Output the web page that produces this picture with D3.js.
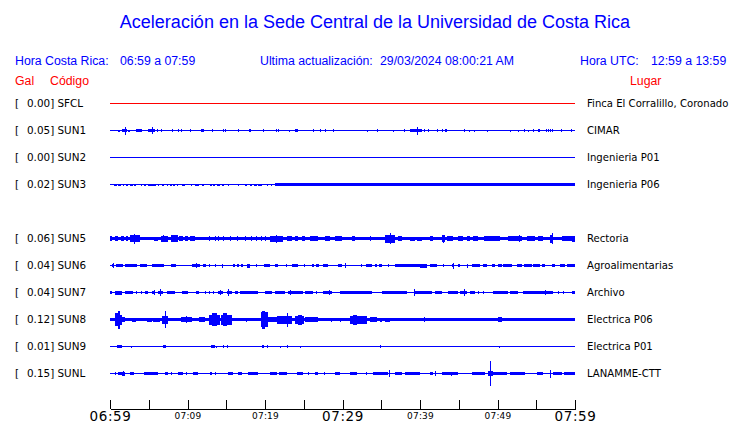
<!DOCTYPE html>
<html><head><meta charset="utf-8">
<script src="https://cdn.jsdelivr.net/npm/d3@7"></script>
<style>
html,body{margin:0;padding:0;background:#fff;}
svg{display:block;}
</style>
</head><body>
<svg id="c" width="740" height="423"></svg>
<script>
// ---------------- DATA ----------------
const title = "Aceleración en la Sede Central de la Universidad de Costa Rica";
const localRange = "06:59 a 07:59";
const utcRange = "12:59 a 13:59";
const updated = "29/03/2024 08:00:21 AM";

const slotCodes = ["SFCL","SUN1","SUN2","SUN3","SUN4","SUN5","SUN6","SUN7","SUN8","SUN9","SUNL"];
const codes = ["SFCL","SUN1","SUN2","SUN3","SUN5","SUN6","SUN7","SUN8","SUN9","SUNL"];
const galValues = [0.00,0.05,0.00,0.02,0.06,0.04,0.04,0.12,0.01,0.15];
const places = ["Finca El Corralillo, Coronado","CIMAR","Ingenieria P01","Ingenieria P06","Rectoria","Agroalimentarias","Archivo","Electrica P06","Electrica P01","LANAMME-CTT"];
const traceColors = ["#ff0000","#0000ff","#0000ff","#0000ff","#0000ff","#0000ff","#0000ff","#0000ff","#0000ff","#0000ff"];

const tickMinutes = [0,5,10,15,20,25,30,35,40,45,50,55,60];
const tickLabels = {0:"06:59",10:"07:09",20:"07:19",30:"07:29",40:"07:39",50:"07:49",60:"07:59"};
const majorTicks = [0,30,60];

// envelope blocks: [start minute, end minute, half amplitude]; spikes: [minute, half amplitude]
const sfclBlocks = [], sfclSpikes = [];
const sun1Blocks = [[0.99,1.29,1],[1.59,2.19,1.7],[2.37,2.54,1],[3.35,4.09,1.3],[4.95,5.81,1.5],[11.74,12.13,1.5],[23.87,24.22,1.5],[38.71,40.22,1.3]];
const sun1Spikes = [[1.98,4],[5.51,3.5],[39.7,4],[6.15,1.3],[6.67,1.3],[8.04,1.3],[8.82,1.3],[9.25,1.3],[10.45,1.3],[13.2,1.3],[14.62,1.3],[14.84,1.3],[16.56,1.3],[17.94,1.3],[18.15,1.3],[19.78,1.3],[21.42,1.3],[21.72,1.3],[23.14,1],[26.24,1.3],[27.1,1.3],[27.87,1.3],[28.82,1.3],[33.2,1],[34.5,1.3],[36.56,1],[38.06,1.3],[40.56,1.3],[41.08,1.3],[42.24,1.3],[42.92,1.3],[43.23,1.3],[43.44,1.3],[45.72,1.3],[46.45,1],[47.01,1],[48.69,1],[51.74,1],[52.7,1],[53.46,1.3],[53.98,1],[54.62,1.3],[55.27,1.3],[55.48,1.3],[56.26,1.3],[56.56,1.3],[56.9,1.3],[57.12,1.3],[58.28,1.3],[59.57,1.3]];
const sun2Blocks = [], sun2Spikes = [];
const sun3Blocks = [[0.52,0.86,1],[0.99,1.42,1],[1.63,1.85,1],[2.02,2.28,1],[2.58,3.01,1],[3.14,3.35,1],[4.0,4.17,1],[4.43,4.6,1],[4.86,5.89,1],[6.24,6.37,1],[6.67,6.97,1],[7.31,7.53,1],[7.74,7.96,1],[8.17,8.39,1],[8.6,8.73,1],[9.25,9.68,1],[10.45,10.62,1],[10.97,11.48,1],[11.83,12.17,1],[12.9,13.12,1],[13.25,13.55,1],[13.85,14.19,1],[14.41,14.75,1],[15.18,15.35,1],[16.47,16.56,1],[17.42,17.63,1],[18.02,18.28,1],[18.58,18.92,1],[19.14,19.57,1],[20.22,20.34,1],[20.73,20.86,1],[21.3,60,1.4]];
const sun3Spikes = [];
const sun5Blocks = [[0,60,1.6],[0,0.3,2.3],[0.65,1.08,2.3],[1.42,1.85,2.3],[2.02,2.28,2.3],[2.58,3.87,3.3],[5.72,6.24,2],[6.58,7.53,3],[7.87,8.82,3.7],[8.9,9.46,2.3],[9.68,10.1,2.3],[10.32,10.97,2.3],[20.65,22.37,3],[22.8,23.44,2.3],[23.87,24.3,2.3],[24.73,25.16,2.3],[25.8,26.88,2.3],[27.74,28.39,2.3],[29.03,29.89,2.3],[31.18,31.61,2.3],[35.48,36.77,4],[37.2,37.63,2.3],[38.7,39.3,2],[39.6,40.2,2],[41.3,41.7,2.3],[42.8,43.23,3.3],[43.44,44.3,2.7],[44.95,45.6,2.3],[46.0,46.45,2.3],[46.9,47.5,2.3],[48.2,50.3,2.3],[51.4,53.1,2.3],[53.76,54.84,2.7],[55.27,55.9,2.3],[56.77,57.2,4],[58.28,60,2.3],[59.6,60,3]];
const sun5Spikes = [[3.14,5],[6.88,3.7],[12.9,2.3],[13.55,2.3],[13.98,2.3],[14.62,2.3],[15.61,2.3],[16.47,2.3],[17.42,2.3],[18.28,2.3],[18.92,2.3],[19.57,2.3],[20.0,2.3],[21.5,4],[33.55,2.3],[36.2,5.3],[43.0,4],[52.8,3.3],[57.07,5.7]];
const sun6Blocks = [[0.22,0.56,1.3],[0.73,1.72,1.3],[1.94,3.44,1.3],[3.87,4.73,1.3],[5.46,7.01,1.3],[7.87,8.47,1.3],[10.62,11.61,1.3],[12.04,12.34,1.3],[15.91,16.13,1.3],[16.43,16.69,1.3],[16.9,17.2,1.3],[17.63,18.06,2],[19.91,20.65,1.3],[21.29,21.63,1.3],[23.53,24.22,1.3],[26.1,26.37,1.3],[26.54,26.97,1.3],[27.44,28.17,1.3],[29.46,29.98,1.3],[32.99,33.76,1.3],[34.19,34.41,1.3],[34.71,35.14,1.3],[36.77,40.0,1.7],[40.0,40.86,2],[41.29,42.15,1.3],[44.09,44.43,1.5],[44.95,45.16,1.3],[46.67,47.74,1.3],[48.17,48.6,1.3],[49.25,49.68,1.3],[50.02,50.54,1.3],[50.75,51.91,1.3],[52.47,53.12,1.3],[53.46,54.49,1.3],[54.62,55.48,1.3],[55.7,56.13,1.3],[56.99,57.42,1.3],[58.06,58.71,1.3],[58.92,60,1.3]];
const sun6Spikes = [[0.43,2.3],[11.18,2.3],[12.9,1.3],[13.55,1.3],[14.49,2],[18.92,1.3],[22.8,1.3],[25.08,1.3],[30.4,2.3],[32.39,1.3],[35.91,1.3],[43.0,1.3],[44.3,3],[46.15,2]];
const sun7Blocks = [[0,0.22,1.5],[0.65,1.5,2],[1.94,3.01,1.5],[4.52,4.95,1.5],[5.38,5.81,1.5],[6.24,6.88,1.7],[7.31,8.39,1.5],[9.33,10.11,1.5],[11.05,11.48,1.5],[13.98,14.62,1.5],[15.05,15.7,1.7],[16.13,16.56,1.5],[16.77,19.14,1.8],[20.0,20.86,1.5],[21.29,22.58,1.5],[23.01,24.95,1.7],[25.16,26.24,1.5],[27.53,28.6,1.5],[29.68,33.76,1.5],[35.05,38.28,1.5],[39.35,41.5,1.5],[41.94,42.8,1.5],[43.66,44.95,1.5],[45.16,46.02,1.7],[46.45,47.1,1.5],[49.46,51.4,1.5],[51.61,52.69,1.5],[53.33,57.2,1.5],[59.57,60,1.5]];
const sun7Spikes = [[3.44,1.5],[4.09,1.5],[5.68,2.3],[6.58,3.3],[12.26,1.5],[12.9,1.5],[13.33,1.5],[14.32,2.3],[15.27,3.7],[23.31,2.7],[26.67,1.5],[28.3,2.3],[39.35,3.3],[45.68,3.7],[47.53,1.5],[48.17,1.5],[56.13,2.3],[57.85,1.5],[58.49,1.5]];
const sun8Blocks = [[0,36.77,1.1],[0.22,0.65,1.7],[0.65,0.99,6.7],[0.99,1.29,9],[1.29,1.59,5],[1.59,1.94,2.7],[2.15,2.58,1.7],[2.8,3.31,2],[3.66,4.09,1.7],[4.73,5.38,2],[5.59,6.45,2],[6.67,7.53,4],[7.74,7.96,1.3],[9.16,10.62,2.7],[11.48,12.26,2.7],[12.77,14.19,5],[13.1,13.76,6.7],[14.32,15.7,5],[14.62,15.05,6.7],[15.91,17.42,1.7],[19.48,20.43,7.7],[19.6,20.0,9],[20.43,21.51,2.7],[21.51,23.44,4],[22.8,23.01,7],[23.87,25.08,4],[24.3,24.73,5],[25.16,26.88,2.3],[30.97,33.12,4],[31.4,31.83,5],[33.55,34.41,2.7],[34.84,35.05,2],[35.48,36.13,2],[36.77,60,1.8],[50.1,50.54,2.7]];
const sun8Spikes = [[7.1,8.3],[9.89,3.5],[17.63,2],[28.6,2],[29.68,2],[40.56,2.3]];
const sun9Blocks = [[0.86,1.59,1.3],[6.88,7.18,1.5],[13.03,13.55,1.5],[19.66,19.91,1.5],[20.22,20.43,1.3]];
const sun9Spikes = [[2.71,1],[13.76,1],[14.62,1.3],[15.18,1.3],[21.94,1],[22.92,1.3],[24.52,1],[34.84,1.3],[50.24,1]];
const sunlBlocks = [[0.99,1.5,1.3],[1.59,1.94,2],[2.58,3.14,1.2],[4.43,6.15,1.5],[7.1,7.44,1.2],[8.73,9.46,1.3],[10.75,11.31,1.3],[12.9,13.12,1.2],[15.27,15.91,1.2],[16.56,17.08,1.2],[17.76,19.14,1.3],[20.65,21.5,1.3],[21.8,22.8,1.3],[24.09,24.95,1.2],[26.45,26.88,1.2],[29.03,29.68,1.2],[30.97,31.83,1.2],[33.98,35.91,1.3],[36.77,37.63,1.2],[38.06,40.0,1.3],[41.3,41.7,1.2],[42.8,44.95,1.2],[46.67,48.39,1.2],[48.8,49.4,2.5],[49.46,51.2,1.3],[51.6,53.55,1.3],[55.05,55.9,1.3],[57.2,58.3,1.2],[58.6,60,1.2]];
const sunlSpikes = [[0.65,1.2],[1.7,2.3],[7.96,1.2],[9.89,1.2],[13.55,1.2],[25.59,1.2],[27.74,1.2],[33.12,1.2],[36.0,3.3],[41.94,2.7],[44.0,2],[49.12,12.5],[56.8,4]];

const traceBlocks = [sfclBlocks,sun1Blocks,sun2Blocks,sun3Blocks,sun5Blocks,sun6Blocks,sun7Blocks,sun8Blocks,sun9Blocks,sunlBlocks];
const traceSpikes = [sfclSpikes,sun1Spikes,sun2Spikes,sun3Spikes,sun5Spikes,sun6Spikes,sun7Spikes,sun8Spikes,sun9Spikes,sunlSpikes];

// ---------------- CHART ----------------
const svg = d3.select("#c");
const blue = "#0000ff", red = "#ff0000";
const headFont = "'Liberation Sans', Arial, sans-serif";
const labFont = "'DejaVu Sans', sans-serif";

const x = d3.scaleLinear().domain([0,60]).range([110,575]);
const y = d3.scalePoint().domain(slotCodes).range([103.5,373.5]);
const amp = d3.scaleLinear().domain([0,1]).range([0,1]);

// title & header
svg.append("text").attr("x",375).attr("y",28).attr("text-anchor","middle")
  .attr("font-family",headFont).attr("font-size",18).attr("fill",blue).text(title);

const header = [
  {t:"Hora Costa Rica:",x:15},{t:localRange,x:120},
  {t:"Ultima actualización:",x:260},{t:updated,x:380},
  {t:"Hora UTC:",x:580},{t:utcRange,x:651}
];
svg.selectAll("text.h").data(header).join("text").attr("class","h")
  .attr("x",d=>d.x).attr("y",65).attr("font-family",headFont).attr("font-size",12.3)
  .attr("fill",blue).text(d=>d.t);

svg.append("text").attr("x",15).attr("y",85).attr("font-family",headFont).attr("font-size",12.3).attr("fill",red).text("Gal");
svg.append("text").attr("x",50).attr("y",85).attr("font-family",headFont).attr("font-size",12.3).attr("fill",red).text("Código");
svg.append("text").attr("x",630).attr("y",85).attr("font-family",headFont).attr("font-size",12.3).attr("fill",red).text("Lugar");

// rows
const rows = codes.map((c,i)=>({code:c,gal:galValues[i],place:places[i],color:traceColors[i],blocks:traceBlocks[i],spikes:traceSpikes[i]}));

const g = svg.append("g").attr("shape-rendering","crispEdges");
rows.forEach(r=>{
  const y0 = y(r.code);
  g.append("line").attr("x1",x(0)).attr("x2",x(60)).attr("y1",y0).attr("y2",y0)
    .attr("stroke",r.color).attr("stroke-width",1);
  g.selectAll(null).data(r.blocks).join("rect")
    .attr("x",d=>x(d[0])).attr("width",d=>Math.max(1,x(d[1])-x(d[0])))
    .attr("y",d=>y0-amp(d[2])).attr("height",d=>2*amp(d[2])).attr("fill",r.color);
  g.selectAll(null).data(r.spikes).join("rect")
    .attr("x",d=>x(d[0])-0.5).attr("width",1)
    .attr("y",d=>y0-amp(d[1])).attr("height",d=>2*amp(d[1])).attr("fill",r.color);

  svg.append("text").attr("x",15).attr("y",y0+3.5).attr("font-family",labFont).attr("font-size",10.4).attr("fill","#000").text("[");
  svg.append("text").attr("x",27).attr("y",y0+3.5).attr("font-family",labFont).attr("font-size",10.4).attr("fill","#000")
    .text(r.gal.toFixed(2)+"] "+r.code);
  svg.append("text").attr("x",587).attr("y",y0+3.5).attr("font-family",labFont).attr("font-size",10.1).attr("fill","#000").text(r.place);
});

// time axis
const axis = d3.axisBottom(x).tickValues(tickMinutes).tickSizeInner(-9).tickSizeOuter(0)
  .tickPadding(0).tickFormat(d=>tickLabels[d]||"");
const ag = svg.append("g").attr("transform","translate(0,408.5)").call(axis);
ag.select(".domain").attr("stroke","#000").attr("shape-rendering","crispEdges");
ag.selectAll(".tick line").attr("stroke","#000").attr("shape-rendering","crispEdges");
ag.selectAll(".tick text").attr("fill","#000").attr("font-family",labFont)
  .attr("dy",null)
  .attr("y",d=>majorTicks.includes(d)?12.5:10)
  .attr("font-size",d=>majorTicks.includes(d)?13.5:9)
  .attr("letter-spacing",d=>majorTicks.includes(d)?0.6:0.2);
</script>
</body></html>
